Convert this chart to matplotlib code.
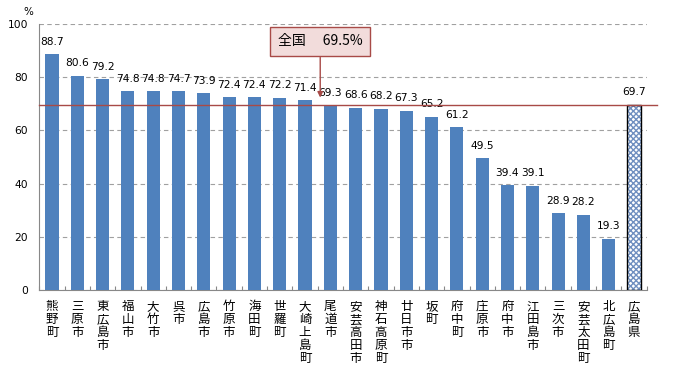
import matplotlib
matplotlib.use("Agg")
import matplotlib.pyplot as plt

plt.rcParams["font.family"] = ["Noto Sans CJK JP", "DejaVu Sans"]

# data
cities = ["熊野町", "三原市", "東広島市", "福山市", "大竹市", "呉市", "広島市", "竹原市",
          "海田町", "世羅町", "大崎上島町", "尾道市", "安芸高田市", "神石高原町", "廿日市市",
          "坂町", "府中町", "庄原市", "府中市", "江田島市", "三次市", "安芸太田町", "北広島町"]
rates = [88.7, 80.6, 79.2, 74.8, 74.8, 74.7, 73.9, 72.4, 72.4, 72.2, 71.4, 69.3, 68.6,
         68.2, 67.3, 65.2, 61.2, 49.5, 39.4, 39.1, 28.9, 28.2, 19.3]
pref_name = "広島県"
pref_rate = 69.7
national_label = "全国"
national_rate = 69.5
yticks = [0, 20, 40, 60, 80, 100]

blue = "#4F81BD"
red = "#A84A47"

fig = plt.figure(figsize=(6.77, 3.71), dpi=100)
ax = fig.add_axes([39.3 / 677, 1 - 290 / 371, (646.7 - 39.3) / 677, 266 / 371])

n = len(cities)
xs = list(range(n))
ax.bar(xs, rates, width=0.52, color=blue, zorder=3)
ax.bar([n], [pref_rate], width=0.52, color="white", edgecolor="#6F8FC0",
       hatch="xxxxxx", linewidth=0, zorder=3)
ax.bar([n], [pref_rate], width=0.52, fill=False, edgecolor="black", linewidth=1.0, zorder=4)

for x, v in zip(xs + [n], rates + [pref_rate]):
    ax.annotate(f"{v:.1f}", (x, v), xytext=(0, 9), textcoords="offset points",
                ha="center", va="center", fontsize=7.7, family="DejaVu Sans")

ax.set_xlim(-0.5, n + 0.5)
ax.set_ylim(0, 100)
ax.set_yticks(yticks)
ax.set_yticklabels([str(t) for t in yticks], fontsize=7.7, family="DejaVu Sans")
ax.tick_params(axis="y", length=0, pad=8)
ax.set_xticks([x - 0.5 for x in range(n + 2)])
ax.set_xticklabels([])
ax.tick_params(axis="x", direction="in", length=3, color="#888888")
ax.yaxis.grid(True, linestyle=(0, (4, 3)), color="#A0A0A0", linewidth=0.8, zorder=0)
for s in ["top", "right"]:
    ax.spines[s].set_visible(False)
ax.spines["left"].set_color("#888888")
ax.spines["bottom"].set_color("#888888")

for x, name in zip(xs + [n], cities + [pref_name]):
    ax.text(x, -3.8, "\n".join(name), ha="center", va="top", fontsize=9,
            linespacing=1.0, transform=ax.transData)

# national average line
ax.plot([-0.5, n + 0.9], [national_rate] * 2, color=red, linewidth=1.0,
        clip_on=False, zorder=5)
ax.annotate("", xy=(10.6, national_rate + 1.8), xytext=(10.6, 88.5),
            arrowprops=dict(arrowstyle="-|>", color=red, lw=1.0, mutation_scale=8),
            zorder=6)
ax.text(10.6, 93.5, f"{national_label}\u3000 {national_rate}%", ha="center", va="center",
        fontsize=10, zorder=7,
        bbox=dict(boxstyle="square,pad=0.55", facecolor="#F2DCDB", edgecolor=red, linewidth=1.0))

fig.text(28 / 677, 1 - 12 / 371, "%", fontsize=7.5, ha="center", va="center",
         family="DejaVu Sans")

fig.savefig("out.png", dpi=100)
